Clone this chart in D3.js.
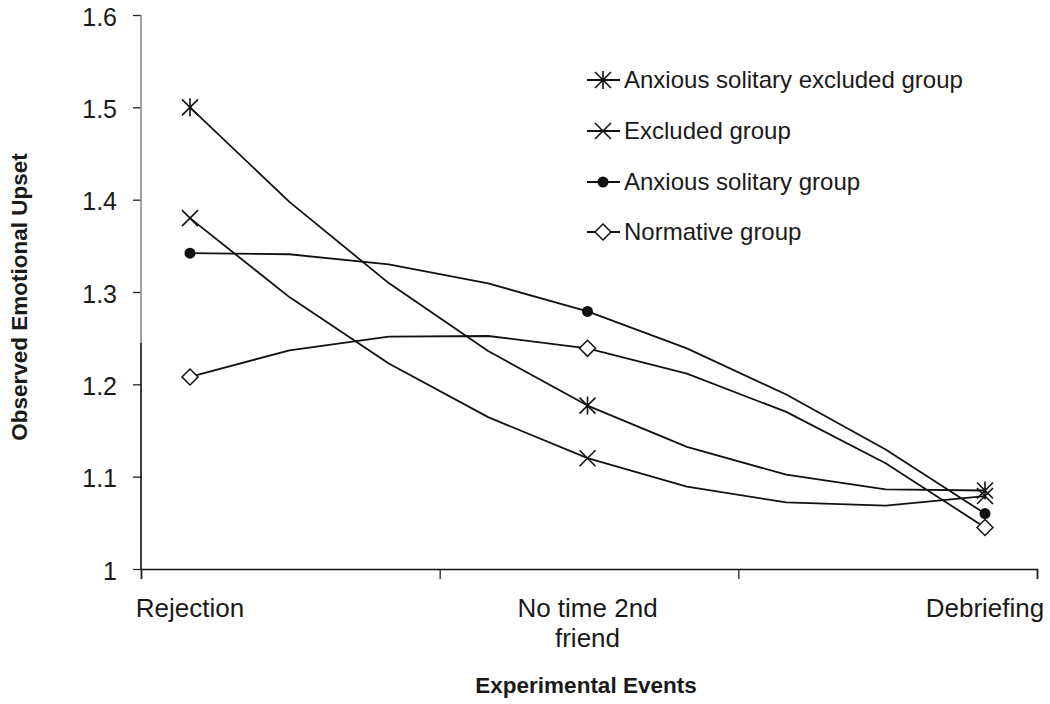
<!DOCTYPE html>
<html><head><meta charset="utf-8">
<script src="https://cdn.jsdelivr.net/npm/d3@7/dist/d3.min.js"></script>
<style>body{margin:0;background:#fff;} text{font-family:"Liberation Sans",Arial,sans-serif;fill:#1a1a1a;}</style>
</head><body>
<svg id="c" width="1050" height="704"></svg>
<script>
const categories = ["Rejection", "No time 2nd friend", "Debriefing"];
const categoryLines = [["Rejection"], ["No time 2nd", "friend"], ["Debriefing"]];
const seriesNames = ["Anxious solitary excluded group", "Excluded group", "Anxious solitary group", "Normative group"];
const seriesMarkers = ["asterisk", "cross", "dot", "diamond"];
const anxiousSolitaryExcluded = [1.50, 1.177, 1.085];
const excluded = [1.38, 1.12, 1.079];
const anxiousSolitary = [1.342, 1.279, 1.06];
const normative = [1.208, 1.239, 1.045];
const yTicks = [1, 1.1, 1.2, 1.3, 1.4, 1.5, 1.6];
const yTickLabels = ["1", "1.1", "1.2", "1.3", "1.4", "1.5", "1.6"];

const series = [anxiousSolitaryExcluded, excluded, anxiousSolitary, normative];

const svg = d3.select("#c");
const axL = 141, axR = 1037, axT = 15, axB = 569;
const y = d3.scaleLinear().domain([1, 1.6]).range([axB, axT]);
const x = d3.scalePoint().domain(categories).range([190, 985]);
const xTickScale = d3.scaleLinear().domain([0, 3]).range([axL, axR]);

// Excel-style smoothed line: Catmull-Rom tangents inside, parabolic tangents at the ends,
// rendered as short straight pieces (4 per interval) like the original.
function curveExcelSmooth(context) {
  let pts = [];
  return {
    areaStart() {}, areaEnd() {},
    lineStart() { pts = []; },
    point(px, py) { pts.push([+px, +py]); },
    lineEnd() {
      const n = pts.length;
      if (!n) return;
      context.moveTo(pts[0][0], pts[0][1]);
      if (n < 3) { for (let i = 1; i < n; i++) context.lineTo(pts[i][0], pts[i][1]); return; }
      const T = pts.map(() => [0, 0]);
      for (let i = 1; i < n - 1; i++) T[i] = [(pts[i + 1][0] - pts[i - 1][0]) / 2, (pts[i + 1][1] - pts[i - 1][1]) / 2];
      T[0] = [2 * (pts[1][0] - pts[0][0]) - T[1][0], 2 * (pts[1][1] - pts[0][1]) - T[1][1]];
      T[n - 1] = [2 * (pts[n - 1][0] - pts[n - 2][0]) - T[n - 2][0], 2 * (pts[n - 1][1] - pts[n - 2][1]) - T[n - 2][1]];
      for (let i = 0; i < n - 1; i++) {
        for (let k = 1; k <= 4; k++) {
          const t = k / 4, t2 = t * t, t3 = t2 * t;
          const h00 = 2 * t3 - 3 * t2 + 1, h10 = t3 - 2 * t2 + t, h01 = -2 * t3 + 3 * t2, h11 = t3 - t2;
          context.lineTo(
            h00 * pts[i][0] + h10 * T[i][0] + h01 * pts[i + 1][0] + h11 * T[i + 1][0],
            h00 * pts[i][1] + h10 * T[i][1] + h01 * pts[i + 1][1] + h11 * T[i + 1][1]);
        }
      }
    }
  };
}

// Y axis
const yAxis = d3.axisLeft(y).tickValues(yTicks).tickFormat((d, i) => yTickLabels[i]).tickSize(8).tickPadding(16);
const gy = svg.append("g").attr("transform", `translate(${axL},0)`).call(yAxis);
gy.select(".domain").remove();
gy.selectAll(".tick line").attr("stroke", "#222").attr("stroke-width", 1.3);
gy.selectAll(".tick text").style("font-size", "25px").attr("fill", "#1a1a1a").attr("dy", "0.4em");
svg.append("line").attr("x1", axL).attr("x2", axL).attr("y1", axT).attr("y2", y(1.245)).attr("stroke", "#8a8a8a").attr("stroke-width", 1.6);
svg.append("line").attr("x1", axL).attr("x2", axL).attr("y1", y(1.245)).attr("y2", axB).attr("stroke", "#111").attr("stroke-width", 1.6);

// X axis
const gx = svg.append("g").attr("transform", `translate(0,${axB})`)
  .call(d3.axisBottom(xTickScale).tickValues([0, 1, 2, 3]).tickFormat("").tickSize(10));
gx.select(".domain").attr("stroke", "#111").attr("stroke-width", 1.6);
gx.selectAll(".tick line").attr("stroke", "#222").attr("stroke-width", 1.3);

categories.forEach((c, i) => {
  const t = svg.append("text").attr("x", x(c)).attr("y", 617).attr("text-anchor", "middle").style("font-size", "26px");
  categoryLines[i].forEach((ln, j) => t.append("tspan").attr("x", x(c)).attr("dy", j === 0 ? 0 : 30).text(ln));
});

// Titles
svg.append("text").attr("x", 586).attr("y", 693).attr("text-anchor", "middle")
  .style("font-size", "22.5px").style("font-weight", "bold").text("Experimental Events");
svg.append("text").attr("transform", "translate(27,297) rotate(-90)").attr("text-anchor", "middle")
  .style("font-size", "22.5px").style("font-weight", "bold").text("Observed Emotional Upset");

// Lines
const line = d3.line().x((d, i) => x(categories[i])).y(d => y(d)).curve(curveExcelSmooth);
series.forEach(s => {
  svg.append("path").attr("d", line(s)).attr("fill", "none").attr("stroke", "#111").attr("stroke-width", 1.8).attr("stroke-linejoin", "round");
});

function marker(g, type, cx, cy) {
  const s = 8;
  if (type === "asterisk") {
    g.append("path").attr("d", `M${cx - s},${cy - s}L${cx + s},${cy + s}M${cx - s},${cy + s}L${cx + s},${cy - s}M${cx},${cy - s - 1}L${cx},${cy + s + 1}`)
      .attr("stroke", "#111").attr("stroke-width", 1.6).attr("fill", "none");
  } else if (type === "cross") {
    g.append("path").attr("d", `M${cx - s},${cy - s}L${cx + s},${cy + s}M${cx - s},${cy + s}L${cx + s},${cy - s}`)
      .attr("stroke", "#111").attr("stroke-width", 1.6).attr("fill", "none");
  } else if (type === "dot") {
    g.append("circle").attr("cx", cx).attr("cy", cy).attr("r", 5.5).attr("fill", "#111");
  } else {
    g.append("path").attr("d", `M${cx},${cy - 8}L${cx + 8},${cy}L${cx},${cy + 8}L${cx - 8},${cy}Z`)
      .attr("stroke", "#111").attr("stroke-width", 1.5).attr("fill", "#fff");
  }
}
const mg = svg.append("g");
series.forEach((s, k) => s.forEach((v, i) => marker(mg, seriesMarkers[k], x(categories[i]), y(v))));

// Legend
const legY = [80, 131, 182, 232];
seriesNames.forEach((n, k) => {
  const ly = legY[k];
  svg.append("line").attr("x1", 587).attr("x2", 620).attr("y1", ly).attr("y2", ly).attr("stroke", "#111").attr("stroke-width", 1.8);
  marker(svg, seriesMarkers[k], 603, ly);
  svg.append("text").attr("x", 624).attr("y", ly + 8).style("font-size", "24px").text(n);
});
</script>
</body></html>
